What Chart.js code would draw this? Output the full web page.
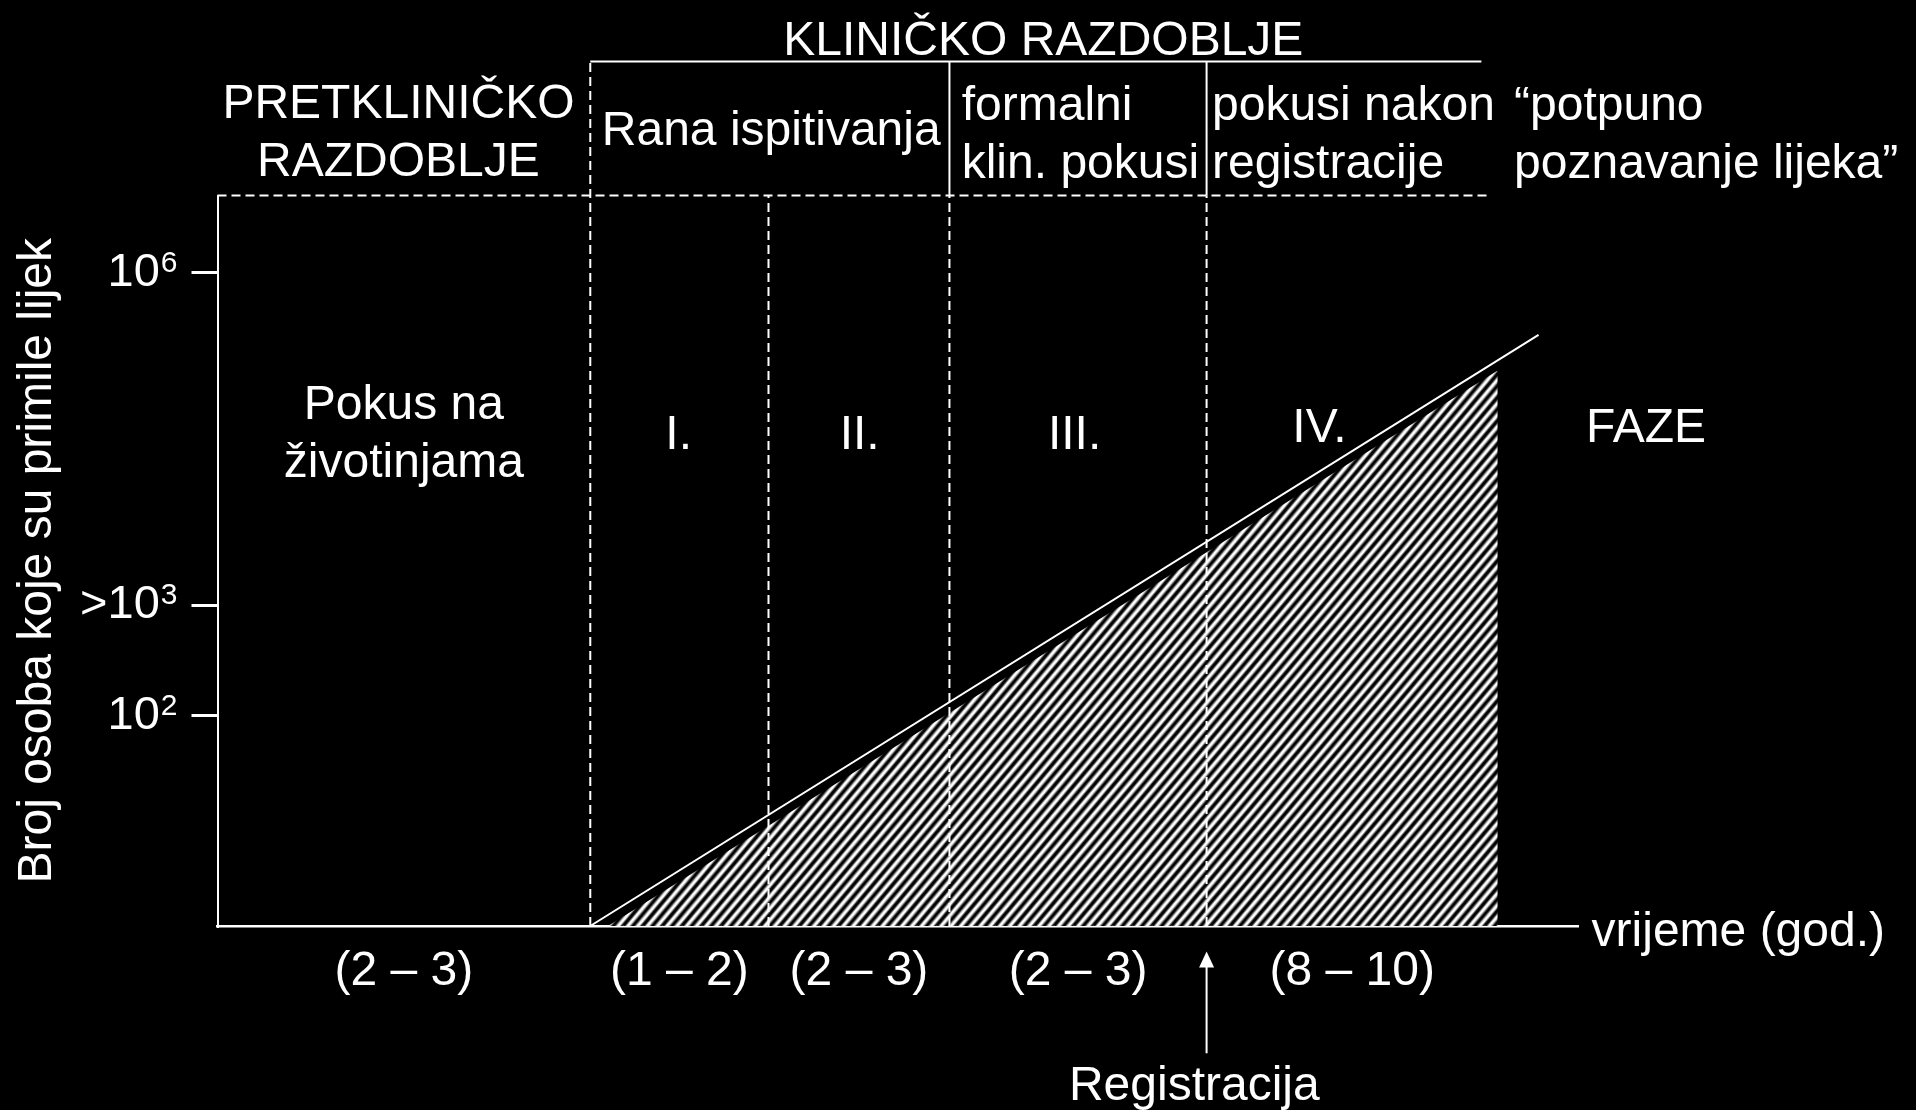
<!DOCTYPE html>
<html lang="hr">
<head>
<meta charset="utf-8">
<title>Razdoblja razvoja lijeka</title>
<script src="https://cdn.jsdelivr.net/npm/chart.js@4.4.0/dist/chart.umd.min.js"></script>
<style>
  html, body { margin: 0; padding: 0; background: #000; overflow: hidden; }
  #wrap { width: 1916px; height: 1110px; }
</style>
</head>
<body>
<div id="wrap"><canvas id="phaseChart" width="1916" height="1110"></canvas></div>
<script>
// schematic time axis: boundaries of the development phases
// (preclinical | I | II | III | IV up to end of hatching)
const phaseEdges = [0, 2.74, 4.05, 5.38, 7.27, 9.41];
const durationLabels = ['(2 – 3)', '(1 – 2)', '(2 – 3)', '(2 – 3)', '(8 – 10)'];

// y axis = log10 of number of persons who took the drug
const yTickValues = [2, 3, 6];
const yTickBase = ['10', '>10', '10'];
const yTickExp = ['2', '3', '6'];
const yMin = 0.1;
const yMax = 6.7;

// growth of exposed persons (diagonal) and hatched area under it
const exposureX = [2.74, 9.71];
const exposureY = [0.1, 5.44];
const hatchX = [2.87, 9.41, 9.41];
const hatchY = [0.1, 5.12, 0.1];

// header frame
const frameTopEnd = 9.34;      // end of dashed top line
const bracketLevel = 7.91;     // line under "KLINIČKO RAZDOBLJE"
const bracketEnd = 9.29;
const registrationArrowY = [-1.05, -0.13];   // bottom, tip

const fontFamily = "'Liberation Sans', Arial, Helvetica, sans-serif";

const notes = [
    { text: 'KLINIČKO RAZDOBLJE', x: 6.07, y: 7.97 },
    { text: 'PRETKLINIČKO\nRAZDOBLJE', x: 1.33, y: 7.40 },
    { text: 'Rana ispitivanja', x: 4.07, y: 7.16 },
    { text: 'formalni\nklin. pokusi', x: 5.47, y: 7.38, align: 'left' },
    { text: 'pokusi nakon\nregistracije', x: 7.31, y: 7.38, align: 'left' },
    { text: '\u201Cpotpuno\npoznavanje lijeka\u201D', x: 9.53, y: 7.38, align: 'left' },
    { text: 'Pokus na\nživotinjama', x: 1.37, y: 4.68 },
    { text: 'I.', x: 3.39, y: 4.41 },
    { text: 'II.', x: 4.72, y: 4.41 },
    { text: 'III.', x: 6.30, y: 4.41 },
    { text: 'IV.', x: 8.10, y: 4.47 },
    { text: 'FAZE', x: 10.5, y: 4.47 },
    { text: 'vrijeme (god.)', x: 10.1, y: -0.08, align: 'left' },
    { text: 'Registracija', x: 7.18, y: -1.47 }
];

// diagonal stripes, soft edged like the scanned original
function makeHatch(ctx) {
    const period = 7.5;
    const tile = document.createElement('canvas');
    tile.width = 4;
    tile.height = 15;
    const g = tile.getContext('2d');
    for (let k = 0; k < 2; k++) {
        const y0 = k * period;
        const grad = g.createLinearGradient(0, y0, 0, y0 + period);
        grad.addColorStop(0, '#000');
        grad.addColorStop(0.12, '#000');
        grad.addColorStop(0.4, '#fff');
        grad.addColorStop(0.6, '#fff');
        grad.addColorStop(0.88, '#000');
        grad.addColorStop(1, '#000');
        g.fillStyle = grad;
        g.fillRect(0, y0, 4, period);
    }
    const pattern = ctx.createPattern(tile, 'repeat');
    pattern.setTransform(new DOMMatrix().rotate(-50));
    return pattern;
}

function segment(x1, y1, x2, y2, dashed) {
    return {
        data: [{ x: x1, y: y1 }, { x: x2, y: y2 }],
        borderColor: '#fff',
        borderWidth: 2,
        borderDash: dashed ? [9, 5] : [],
        pointRadius: 0,
        fill: false,
        clip: false
    };
}

// white text drawn at data positions, y tick labels with exponents, arrow head
const diagramText = {
    id: 'diagramText',
    afterDraw(chart) {
        const { ctx, scales: { x, y } } = chart;
        ctx.save();
        ctx.fillStyle = '#fff';
        ctx.textBaseline = 'alphabetic';
        ctx.font = '48px ' + fontFamily;
        notes.forEach(n => {
            const px = x.getPixelForValue(n.x);
            const py = y.getPixelForValue(n.y);
            ctx.textAlign = n.align || 'center';
            n.text.split('\n').forEach((line, i) => ctx.fillText(line, px, py + i * 58));
        });

        const right = y.right - 40;
        yTickValues.forEach((v, i) => {
            const py = y.getPixelForValue(v);
            ctx.textAlign = 'right';
            ctx.font = '30px ' + fontFamily;
            const expW = ctx.measureText(yTickExp[i]).width;
            ctx.fillText(yTickExp[i], right, py - 1);
            ctx.font = '47px ' + fontFamily;
            ctx.fillText(yTickBase[i], right - expW - 1, py + 13);
        });

        // arrow head for "Registracija"
        const ax = x.getPixelForValue(phaseEdges[4]);
        const tip = y.getPixelForValue(registrationArrowY[1]);
        ctx.beginPath();
        ctx.moveTo(ax, tip);
        ctx.lineTo(ax + 7.5, tip + 16);
        ctx.lineTo(ax - 7.5, tip + 16);
        ctx.closePath();
        ctx.fill();
        ctx.restore();
    }
};

const canvas = document.getElementById('phaseChart');

const datasets = [];
datasets.push({
    data: exposureX.map((v, i) => ({ x: v, y: exposureY[i] })),
    borderColor: '#fff', borderWidth: 2, pointRadius: 0, fill: false, clip: false
});
// phase boundaries
datasets.push(segment(phaseEdges[1], yMin, phaseEdges[1], bracketLevel, true));
datasets.push(segment(phaseEdges[2], yMin, phaseEdges[2], yMax, true));
datasets.push(segment(phaseEdges[3], yMin, phaseEdges[3], yMax, true));
datasets.push(segment(phaseEdges[4], yMin, phaseEdges[4], yMax, true));
datasets.push(segment(phaseEdges[3], yMax, phaseEdges[3], bracketLevel, false));
datasets.push(segment(phaseEdges[4], yMax, phaseEdges[4], bracketLevel, false));
// frame top and clinical bracket
datasets.push(segment(0, yMax, frameTopEnd, yMax, true));
datasets.push(segment(phaseEdges[1], bracketLevel, bracketEnd, bracketLevel, false));
// registration arrow shaft
datasets.push(segment(phaseEdges[4], registrationArrowY[0], phaseEdges[4], registrationArrowY[1] - 0.1, false));
// hatched area
datasets.push({
    data: hatchX.map((v, i) => ({ x: v, y: hatchY[i] })),
    borderWidth: 0, borderColor: 'rgba(0,0,0,0)', pointRadius: 0,
    backgroundColor: makeHatch(canvas.getContext('2d')), fill: 'start', order: 10
});

const phaseMids = durationLabels.map((_, i) => (phaseEdges[i] + phaseEdges[i + 1]) / 2);

Chart.defaults.color = '#fff';
Chart.defaults.font.family = fontFamily;

new Chart(canvas, {
    type: 'line',
    data: { datasets: datasets },
    plugins: [diagramText],
    options: {
        responsive: false,
        animation: false,
        events: [],
        layout: { padding: { top: 195.5, right: 338, bottom: 0, left: 0 } },
        plugins: { legend: { display: false }, tooltip: { enabled: false } },
        elements: { line: { tension: 0 } },
        scales: {
            x: {
                type: 'linear',
                min: 0,
                max: 10,
                grid: { display: false, drawTicks: false },
                border: { display: true, color: '#fff', width: 2.5 },
                afterBuildTicks: s => { s.ticks = phaseMids.map(v => ({ value: v })); },
                afterFit: s => { s.height = 184; },
                ticks: {
                    autoSkip: false, maxRotation: 0, minRotation: 0, padding: 17,
                    color: '#fff', font: { size: 48 },
                    callback: (value, index) => durationLabels[index]
                }
            },
            y: {
                type: 'linear',
                min: yMin,
                max: yMax,
                grid: {
                    display: true, drawOnChartArea: false, drawTicks: true, tickLength: 26,
                    color: '#fff', tickColor: '#fff', lineWidth: 3, tickWidth: 3
                },
                border: { display: true, color: '#fff', width: 2 },
                afterBuildTicks: s => { s.ticks = yTickValues.map(v => ({ value: v })); },
                afterFit: s => { s.width = 217.5; },
                ticks: { display: false },
                title: {
                    display: true,
                    text: 'Broj osoba koje su primile lijek',
                    color: '#fff',
                    font: { size: 48 },
                    padding: { top: 9, bottom: 0 }
                }
            }
        }
    }
});
</script>
</body>
</html>
